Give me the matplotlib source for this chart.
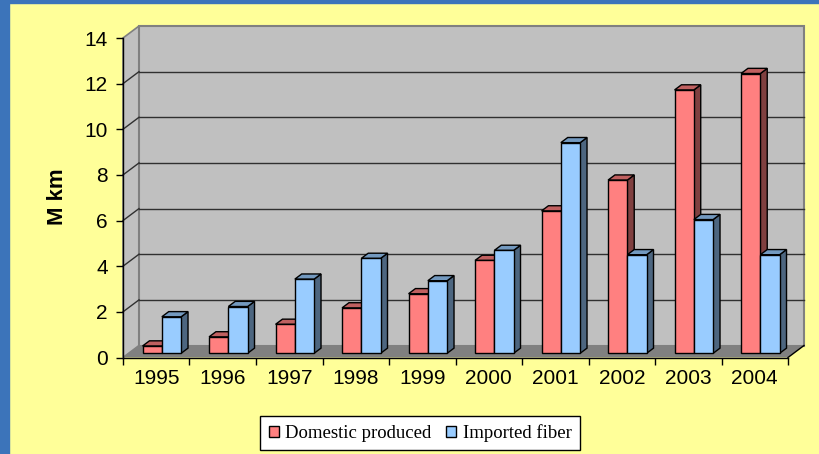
import matplotlib.pyplot as plt
from matplotlib.patches import Polygon, Rectangle

# Fiber supply, million km
years = ['1995', '1996', '1997', '1998', '1999', '2000', '2001', '2002', '2003', '2004']
domestic = [0.32, 0.72, 1.27, 1.99, 2.61, 4.07, 6.24, 7.59, 11.54, 12.26]
imported = [1.60, 2.05, 3.25, 4.16, 3.18, 4.51, 9.23, 4.32, 5.86, 4.32]
series_names = ['Domestic produced', 'Imported fiber']

# (front, top, side) shades for each series
RED = ('#FF8080', '#C06060', '#804040')
BLUE = ('#99CCFF', '#7399BF', '#4D6680')

W, H = 820, 454
PLOT_L, PLOT_R, PLOT_T, PLOT_B = 123, 788, 38, 357.5   # front plane, px
DEPTH_PX = (16, 12)                                   # oblique depth offset, px
BAR_D0, BAR_D1 = 0.35, 0.78                           # bar depth range (fraction)
BAR_W = 0.29

plt.rcParams['font.family'] = 'Liberation Sans'

fig = plt.figure(figsize=(W / 100, H / 100), dpi=100, facecolor='#FFFF99')
ax = fig.add_axes([PLOT_L / W, 1 - PLOT_B / H, (PLOT_R - PLOT_L) / W, (PLOT_B - PLOT_T) / H])
ymax = 14
ncat = len(years)
ax.set_xlim(0, ncat)
ax.set_ylim(0, ymax)
ax.patch.set_visible(False)

# depth offset in data units
ddx = DEPTH_PX[0] * ncat / (PLOT_R - PLOT_L)
ddy = DEPTH_PX[1] * ymax / (PLOT_B - PLOT_T)

# walls and floor
ax.add_patch(Polygon([(0, 0), (ddx, ddy), (ddx, ymax + ddy), (0, ymax)],
                     closed=True, fc='#C0C0C0', ec='#808080', lw=1.2, clip_on=False, zorder=0))
ax.add_patch(Rectangle((ddx, ddy), ncat, ymax, fc='#C0C0C0', ec='#808080', lw=1.5,
                       clip_on=False, zorder=0))
ax.add_patch(Polygon([(0, 0), (ncat, 0), (ncat + ddx, ddy), (ddx, ddy)],
                     closed=True, fc='#808080', ec='none', clip_on=False, zorder=0.5))
ax.plot([ncat, ncat + ddx], [0, ddy], color='black', lw=1, clip_on=False, zorder=0.6)

for v in range(2, ymax, 2):
    ax.plot([ddx, ncat + ddx], [v + ddy, v + ddy], color='#303030', lw=1, clip_on=False, zorder=1)
    ax.plot([0, ddx], [v, v + ddy], color='#303030', lw=1, clip_on=False, zorder=1)

# 3D-looking columns
x_off, y_off = BAR_D0 * ddx, BAR_D0 * ddy
bdx, bdy = (BAR_D1 - BAR_D0) * ddx, (BAR_D1 - BAR_D0) * ddy
for i in range(ncat):
    for k, (vals, shades) in enumerate([(domestic, RED), (imported, BLUE)]):
        v = vals[i]
        x0 = i + 0.5 - BAR_W + k * BAR_W + x_off
        y0 = y_off
        side = [(x0 + BAR_W, y0), (x0 + BAR_W + bdx, y0 + bdy),
                (x0 + BAR_W + bdx, y0 + v + bdy), (x0 + BAR_W, y0 + v)]
        top = [(x0, y0 + v), (x0 + BAR_W, y0 + v),
               (x0 + BAR_W + bdx, y0 + v + bdy), (x0 + bdx, y0 + v + bdy)]
        ax.add_patch(Polygon(side, closed=True, fc=shades[2], ec='black', lw=1, zorder=3))
        ax.add_patch(Polygon(top, closed=True, fc=shades[1], ec='black', lw=1, zorder=3))
        ax.bar(x0, v, width=BAR_W, bottom=y0, align='edge', color=shades[0],
               edgecolor='black', linewidth=1, zorder=3)

# axes
for s in ['top', 'right']:
    ax.spines[s].set_visible(False)
for s in ['left', 'bottom']:
    ax.spines[s].set_color('black')
    ax.spines[s].set_linewidth(1)
    ax.spines[s].set_zorder(2)

ax.set_yticks(range(0, ymax + 1, 2))
ax.tick_params(axis='y', direction='out', length=5, width=1, pad=6, labelsize=15)
ax.set_xticks(range(ncat + 1))
ax.set_xticklabels([])
ax.set_xticks([i + 0.5 for i in range(ncat)], labels=years, minor=True)
ax.tick_params(axis='x', which='major', direction='out', length=5, width=1)
ax.tick_params(axis='x', which='minor', length=0, pad=8, labelsize=15)

fig.text(58 / W, 1 - 197 / H, 'M km', rotation=90, fontweight='bold', fontsize=16,
         ha='center', va='center')

# slide frame
fig.patches.append(Rectangle((0, 0), 8.5 / W, 1, transform=fig.transFigure,
                             color='#3C74BA', zorder=-1))
fig.patches.append(Rectangle((0, 1 - 3 / H), 1, 3 / H, transform=fig.transFigure,
                             color='#3C74BA', zorder=-1))

handles = [Rectangle((0, 0), 1, 1, fc=RED[0], ec='black', lw=1),
           Rectangle((0, 0), 1, 1, fc=BLUE[0], ec='black', lw=1)]
leg = fig.legend(handles, series_names, loc='center', bbox_to_anchor=(420 / W, 1 - 433 / H),
                 ncol=2, frameon=True, fancybox=False, edgecolor='black', facecolor='white',
                 framealpha=1, prop={'family': 'Liberation Serif', 'size': 13.5},
                 handlelength=0.55, handleheight=0.55, handletextpad=0.35,
                 columnspacing=0.75, borderpad=0.45)
leg.get_frame().set_linewidth(1)

fig.savefig('out.png', dpi=100, facecolor=fig.get_facecolor())
